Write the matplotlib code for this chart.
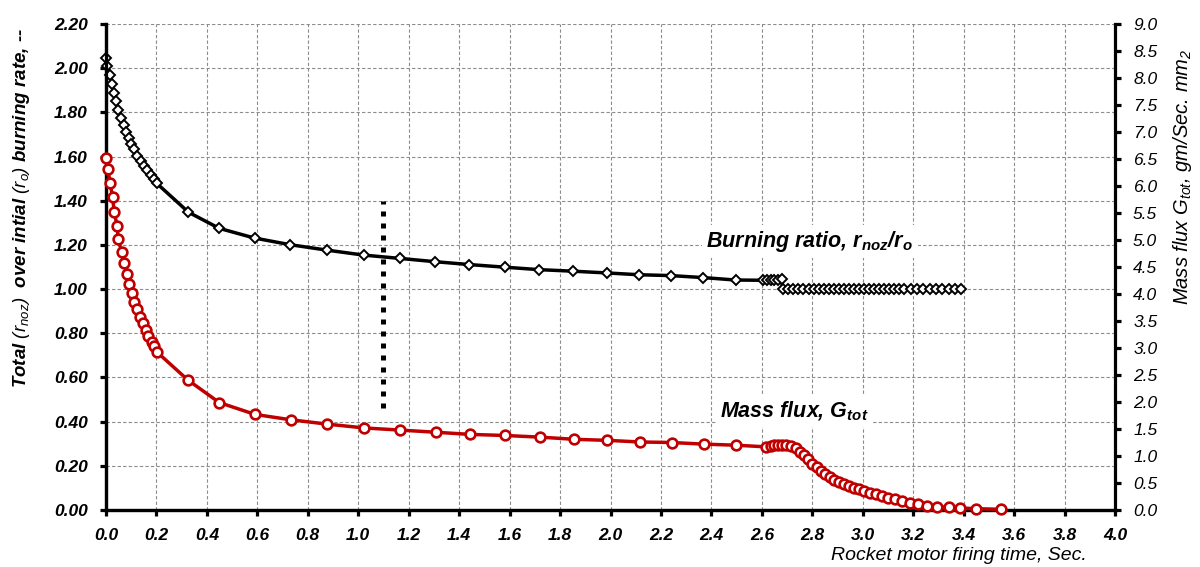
import numpy as np
import matplotlib.pyplot as plt
from matplotlib.ticker import MultipleLocator, FormatStrFormatter

plt.rcParams['font.family'] = ['Liberation Sans', 'DejaVu Sans']
plt.rcParams['mathtext.fontset'] = 'custom'
plt.rcParams['mathtext.it'] = 'Liberation Sans:italic'
plt.rcParams['mathtext.bf'] = 'Liberation Sans:bold:italic'
plt.rcParams['mathtext.rm'] = 'Liberation Sans:italic'

# Burning ratio r_noz/r_o (left axis)
t_ratio = [0.000, 0.005, 0.016, 0.025, 0.032, 0.040, 0.049, 0.060, 0.070, 0.079,
           0.090, 0.100, 0.111, 0.124, 0.137, 0.151, 0.164, 0.177, 0.190, 0.201,
           0.327, 0.449, 0.589, 0.730, 0.878, 1.021, 1.164, 1.305, 1.441, 1.583,
           1.717, 1.852, 1.987, 2.112, 2.241, 2.368, 2.496, 2.605, 2.620, 2.635,
           2.650, 2.665, 2.678, 2.682, 2.705, 2.725, 2.745, 2.765, 2.785, 2.805,
           2.825, 2.845, 2.865, 2.885, 2.905, 2.925, 2.945, 2.965, 2.985, 3.005,
           3.025, 3.045, 3.065, 3.085, 3.105, 3.125, 3.145, 3.165, 3.190, 3.215,
           3.240, 3.265, 3.290, 3.315, 3.340, 3.365, 3.390]
ratio = [2.045, 2.010, 1.969, 1.928, 1.886, 1.853, 1.811, 1.773, 1.743, 1.713,
         1.683, 1.657, 1.633, 1.604, 1.580, 1.559, 1.539, 1.517, 1.497, 1.479,
         1.348, 1.275, 1.231, 1.201, 1.176, 1.154, 1.139, 1.124, 1.111, 1.099,
         1.088, 1.081, 1.073, 1.065, 1.061, 1.052, 1.041, 1.040, 1.040, 1.040,
         1.041, 1.042, 1.045, 1.000, 1.000, 1.000, 1.000, 1.000, 1.000, 1.000,
         1.000, 1.000, 1.000, 1.000, 1.000, 1.000, 1.000, 1.000, 1.000, 1.000,
         1.000, 1.000, 1.000, 1.000, 1.000, 1.000, 1.000, 1.000, 1.000, 1.000,
         1.000, 1.000, 1.000, 1.000, 1.000, 1.000, 1.000]

# Mass flux G_tot (right axis)
t_flux = [0.000, 0.007, 0.017, 0.026, 0.033, 0.044, 0.049, 0.062, 0.073, 0.082,
          0.093, 0.105, 0.112, 0.122, 0.135, 0.145, 0.157, 0.168, 0.181, 0.190,
          0.201, 0.324, 0.449, 0.591, 0.734, 0.878, 1.023, 1.167, 1.308, 1.444,
          1.583, 1.719, 1.854, 1.987, 2.116, 2.242, 2.370, 2.498, 2.615, 2.635,
          2.650, 2.665, 2.680, 2.697, 2.714, 2.734, 2.751, 2.767, 2.782, 2.800,
          2.817, 2.833, 2.850, 2.869, 2.886, 2.906, 2.925, 2.945, 2.965, 2.985,
          3.005, 3.029, 3.052, 3.075, 3.100, 3.127, 3.157, 3.187, 3.219, 3.256,
          3.296, 3.340, 3.386, 3.448, 3.548]
flux = [6.51, 6.31, 6.05, 5.79, 5.52, 5.26, 5.01, 4.78, 4.57, 4.37,
        4.19, 4.01, 3.86, 3.72, 3.58, 3.46, 3.33, 3.23, 3.12, 3.04,
        2.93, 2.41, 1.99, 1.77, 1.67, 1.59, 1.52, 1.48, 1.44, 1.40,
        1.38, 1.35, 1.31, 1.29, 1.26, 1.25, 1.22, 1.20, 1.17, 1.19,
        1.20, 1.20, 1.20, 1.20, 1.19, 1.14, 1.08, 1.02, 0.94, 0.86,
        0.79, 0.72, 0.66, 0.61, 0.56, 0.51, 0.48, 0.44, 0.41, 0.38,
        0.35, 0.32, 0.29, 0.26, 0.23, 0.20, 0.17, 0.135, 0.105, 0.08,
        0.06, 0.05, 0.037, 0.025, 0.013]

# vertical dotted marker line
t_mark = [1.10, 1.10]
v_mark = [0.46, 1.40]

fig = plt.figure(figsize=(12, 5.67), dpi=100)
ax = fig.add_axes([0.0883, 0.1005, 0.8409, 0.8572])
ax2 = ax.twinx()

ax.set_xlim(0, 4)
ax.set_ylim(0, 2.2)
ax2.set_ylim(0, 9)

ax.xaxis.set_major_locator(MultipleLocator(0.2))
ax.yaxis.set_major_locator(MultipleLocator(0.2))
ax2.yaxis.set_major_locator(MultipleLocator(0.5))
ax.xaxis.set_major_formatter(FormatStrFormatter('%.1f'))
ax.yaxis.set_major_formatter(FormatStrFormatter('%.2f'))
ax2.yaxis.set_major_formatter(FormatStrFormatter('%.1f'))

ax.grid(True, color='#8c8c8c', linestyle=(0, (3, 2)), linewidth=0.8)
ax.set_axisbelow(True)

for a in (ax, ax2):
    a.spines['top'].set_visible(False)
    for s in ('left', 'right', 'bottom'):
        a.spines[s].set_linewidth(2.3)
ax.spines['right'].set_visible(False)

ax.tick_params(axis='x', direction='out', length=4, width=2.3, pad=9,
               labelsize=12.5)
ax.tick_params(axis='y', direction='out', length=4, width=2.3, pad=9,
               labelsize=12.5)
ax2.tick_params(axis='y', direction='out', length=4, width=2.3, pad=9,
                labelsize=12.5)
for lab in ax.get_xticklabels() + ax.get_yticklabels():
    lab.set_fontweight('bold')
    lab.set_fontstyle('italic')
for lab in ax2.get_yticklabels():
    lab.set_fontstyle('italic')

ax.plot(t_ratio, ratio, color='black', lw=2.5, marker='D', ms=5.5,
        mfc='white', mec='black', mew=1.4, clip_on=False, zorder=3)
ax.plot(t_mark, v_mark, color='black', lw=3.6, dashes=(1, 1.4),
        dash_capstyle='butt', zorder=2)
ax2.plot(t_flux, flux, color='#c00000', lw=2.5, marker='o', ms=7,
         mfc='white', mec='#c00000', mew=1.9, clip_on=False, zorder=3)

ax2.text(2.79, 1.215, r'Burning ratio, $\mathbf{r_{noz}/r_o}$', transform=ax.transData,
         ha='center', va='center', fontsize=15.5, fontweight='bold', fontstyle='italic',
         bbox=dict(facecolor='white', edgecolor='none', pad=3), zorder=5)
ax2.text(2.73, 0.447, r'Mass flux, $\mathbf{G_{tot}}$', transform=ax.transData,
         ha='center', va='center', fontsize=15.5, fontweight='bold', fontstyle='italic',
         bbox=dict(facecolor='white', edgecolor='none', pad=3), zorder=5)

fig.text(1087 / 1200, 1 - 556 / 567, 'Rocket motor firing time, Sec.',
         ha='right', va='center', fontsize=14, fontstyle='italic')
fig.text(22 / 1200, 1 - 208 / 567,
         r'Total $(r_{noz})$  over intial $(r_o)$ burning rate, --',
         rotation=90, ha='center', va='center', fontsize=13.5,
         fontweight='bold', fontstyle='italic')
fig.text(1183 / 1200, 1 - 177 / 567, r'Mass flux $G_{tot}$, gm/Sec. mm$_2$',
         rotation=90, ha='center', va='center', fontsize=14.5, fontstyle='italic')

fig.savefig('out.png', dpi=100)
